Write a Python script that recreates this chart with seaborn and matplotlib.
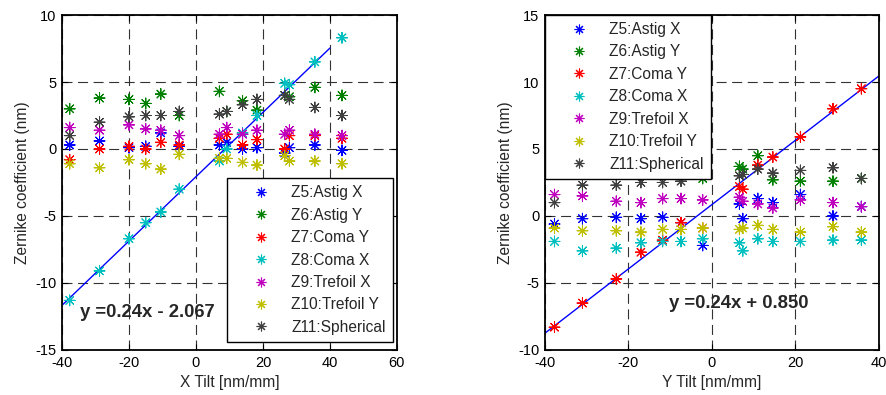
import numpy as np
import pandas as pd
import matplotlib
matplotlib.use("Agg")
import matplotlib.pyplot as plt
from matplotlib.lines import Line2D
import seaborn as sns

# ---------------- data ----------------
series_names = ["Z5:Astig X", "Z6:Astig Y", "Z7:Coma Y", "Z8:Coma X",
                "Z9:Trefoil X", "Z10:Trefoil Y", "Z11:Spherical"]
series_colors = ["#0000ff", "#008000", "#ff0000", "#00bfbf",
                 "#bf00bf", "#bfbf00", "#404040"]

# Left panel: X tilt
x_tilt = [-37.7, -28.8, -20.0, -15.0, -10.5, -5.0, 7.0, 9.2, 13.9, 18.2, 26.5, 27.9, 35.5, 43.6]
xl_z5 = [0.3, 0.6, 0.1, 0.2, 1.2, 0.2, 0.3, 0.5, 0.0, 0.1, -0.3, 0.1, 0.3, -0.1]
xl_z6 = [3.0, 3.8, 3.7, 3.4, 4.1, 2.5, 4.3, 2.8, 3.6, 2.9, 4.0, 3.9, 4.6, 4.0]
xl_z7 = [-0.8, 0.0, 0.2, 0.0, 0.5, 0.3, 0.8, 1.1, 0.3, 0.7, 0.0, 1.0, 1.0, 0.8]
xl_z8 = [-11.3, -9.1, -6.7, -5.5, -4.7, -3.0, -0.9, 0.0, 1.2, 2.5, 4.9, 4.8, 6.5, 8.3]
xl_z9 = [1.6, 1.4, 1.8, 1.5, 1.4, 1.0, 1.1, 1.6, 1.1, 1.4, 1.1, 1.4, 1.1, 1.0]
xl_z10 = [-1.1, -1.4, -0.8, -1.1, -1.5, -0.4, -0.7, -0.7, -1.0, -1.2, -0.5, -0.9, -0.9, -1.1]
xl_z11 = [1.0, 2.0, 2.4, 2.5, 2.5, 2.8, 2.6, 2.8, 3.3, 3.7, 4.0, 3.7, 3.1, 2.5]
x_fit_slope, x_fit_intercept = 0.24, -2.067
x_fit_range = [-40, 40]

# Right panel: Y tilt
y_tilt = [-37.7, -31.0, -22.9, -17.0, -11.8, -7.4, -2.2, 6.6, 7.4, 11.0, 14.6, 21.2, 29.0, 35.8]
yr_z5 = [-0.6, -0.2, -0.1, -0.2, -0.1, -0.5, -2.2, 0.9, -0.2, 1.3, 1.0, 1.6, 0.0, 0.7]
yr_z6 = [3.6, 3.8, 4.0, 3.7, 3.9, 4.2, 2.8, 3.7, 3.5, 4.5, 2.7, 2.6, 2.6, 2.8]
yr_z7 = [-8.3, -6.5, -4.7, -2.7, -1.8, -0.5, -0.9, 2.2, 2.0, 3.8, 4.4, 5.9, 8.0, 9.5]
yr_z8 = [-1.9, -2.6, -2.4, -2.0, -1.9, -1.9, -1.7, -2.0, -2.6, -1.7, -1.9, -1.9, -1.8, -1.8]
yr_z9 = [1.6, 1.5, 1.1, 1.0, 1.3, 1.3, 1.2, 1.4, 1.1, 0.9, 0.6, 1.2, 1.0, 0.7]
yr_z10 = [-0.9, -1.1, -1.1, -1.2, -1.0, -1.0, -0.9, -1.0, -0.9, -0.7, -1.0, -1.2, -0.8, -1.2]
yr_z11 = [1.0, 2.3, 2.3, 2.5, 2.5, 2.6, 3.4, 3.0, 3.1, 3.5, 3.2, 3.4, 3.6, 2.8]
y_fit_slope, y_fit_intercept = 0.24, 0.850
y_fit_range = [-40, 40]

x_ticks_left = [-40, -20, 0, 20, 40, 60]
y_ticks_left = [-15, -10, -5, 0, 5, 10]
x_ticks_right = [-40, -20, 0, 20, 40]
y_ticks_right = [-10, -5, 0, 5, 10, 15]

# ---------------- style ----------------
sns.set_style("ticks")
plt.rcParams["font.family"] = ["Liberation Sans", "DejaVu Sans"]
plt.rcParams["font.size"] = 10
plt.rcParams["axes.unicode_minus"] = False

ASTER = (8, 2, 0)


def long_frame(xvals, cols):
    frames = []
    for name, vals in zip(series_names, cols):
        frames.append(pd.DataFrame({"tilt": xvals, "coef": vals, "series": name}))
    return pd.concat(frames, ignore_index=True)


def draw_panel(ax, df, fit_range, slope, intercept, xticks, yticks, xlabel,
               eq_text, eq_xy, legend_kw):
    palette = dict(zip(series_names, series_colors))
    sns.scatterplot(data=df, x="tilt", y="coef", hue="series", palette=palette,
                    hue_order=series_names, marker=ASTER, s=60, linewidth=0.75,
                    legend=False, ax=ax, zorder=3)
    fit_df = pd.DataFrame({"tilt": fit_range,
                           "coef": [slope * v + intercept for v in fit_range]})
    sns.lineplot(data=fit_df, x="tilt", y="coef", color="#0000ff", linewidth=1.0,
                 ax=ax, zorder=2)
    ax.set_xlim(xticks[0], xticks[-1])
    ax.set_ylim(yticks[0], yticks[-1])
    ax.set_xticks(xticks)
    ax.set_yticks(yticks)
    ax.grid(True, linestyle=(0, (9, 5)), linewidth=0.8, color="#333333")
    ax.tick_params(direction="in", top=True, right=True, length=4,
                   labelsize=10.5, colors="black")
    ax.tick_params(axis="x", pad=4)
    ax.tick_params(axis="y", pad=4)
    for sp in ax.spines.values():
        sp.set_visible(True)
        sp.set_linewidth(1.3)
        sp.set_color("black")
    ax.set_xlabel(xlabel, fontsize=11.2, labelpad=4)
    ax.set_ylabel("Zernike coefficient (nm)", fontsize=11.2, labelpad=4)
    ax.text(eq_xy[0], eq_xy[1], eq_text, fontsize=13.3, fontweight="bold",
            ha="left", va="center", zorder=4)
    handles = [Line2D([], [], linestyle="none", marker=ASTER, markersize=7,
                      markeredgewidth=0.8, color=c) for c in series_colors]
    leg = ax.legend(handles, series_names, fontsize=11.2, frameon=True,
                    fancybox=False, framealpha=1, edgecolor="black",
                    borderaxespad=0, handlelength=3.5, handletextpad=0.2,
                    labelspacing=0.48, borderpad=0.45, **legend_kw)
    leg.get_frame().set_linewidth(1.0)
    leg.set_zorder(10)


fig = plt.figure(figsize=(8.86, 3.95), dpi=100)
ax1 = fig.add_axes([0.070, 0.114, 0.378, 0.848])
ax2 = fig.add_axes([0.615, 0.114, 0.377, 0.848])

df_left = long_frame(x_tilt, [xl_z5, xl_z6, xl_z7, xl_z8, xl_z9, xl_z10, xl_z11])
df_right = long_frame(y_tilt, [yr_z5, yr_z6, yr_z7, yr_z8, yr_z9, yr_z10, yr_z11])

draw_panel(ax1, df_left, x_fit_range, x_fit_slope, x_fit_intercept,
           x_ticks_left, y_ticks_left, "X Tilt [nm/mm]",
           "y =0.24x - 2.067", (-34.5, -12.2),
           dict(loc="lower right", bbox_to_anchor=(0.988, 0.024)))
draw_panel(ax2, df_right, y_fit_range, y_fit_slope, y_fit_intercept,
           x_ticks_right, y_ticks_right, "Y Tilt [nm/mm]",
           "y =0.24x + 0.850", (-10.3, -6.5),
           dict(loc="upper left", bbox_to_anchor=(0.0, 1.0)))

fig.savefig("out.png", dpi=100)
